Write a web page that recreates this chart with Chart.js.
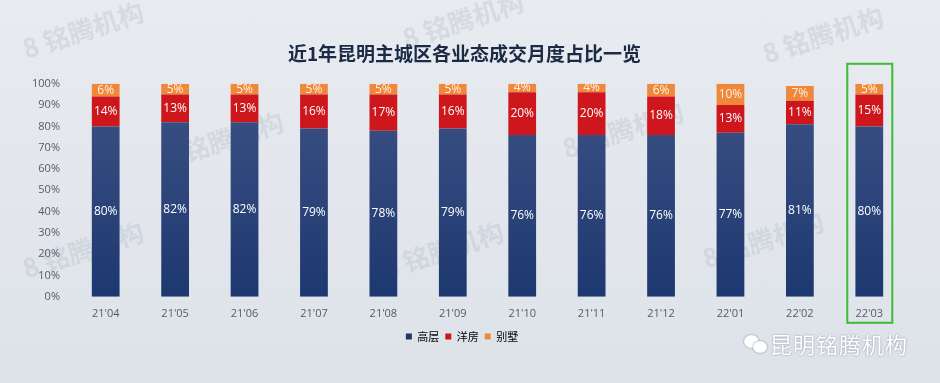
<!DOCTYPE html>
<html>
<head>
<meta charset="utf-8">
<script src="https://cdn.jsdelivr.net/npm/chart.js@4"></script>
<style>
  html, body { margin: 0; padding: 0; }
  body {
    width: 940px; height: 383px; overflow: hidden; position: relative;
    background: linear-gradient(180deg, #e8ebf0 0%, #e2e6ec 60%, #dde2e9 100%);
    font-family: "Noto Sans CJK SC", "Noto Sans", sans-serif;
  }
  #wrap { position: absolute; left: 0; top: 0; width: 940px; height: 383px; }
  .wm {
    position: absolute; color: rgba(140, 150, 165, 0.2); font-size: 26px; font-weight: bold;
    transform: rotate(-18deg); white-space: nowrap; pointer-events: none;
  }
  #brand {
    position: absolute; left: 770px; top: 327px; color: #fff; font-size: 22px;
    text-shadow: 0 0 2px rgba(90, 100, 115, 0.7); letter-spacing: 1px;
  }
  #icon { position: absolute; left: 744px; top: 333px; width: 24px; height: 22px; }
  #icon span {
    position: absolute; background: #fff; border-radius: 50%;
    box-shadow: 0 0 2px rgba(90, 100, 115, 0.8);
  }
</style>
</head>
<body>
<div class="wm" style="left:20px;top:10px">8 铭腾机构</div>
<div class="wm" style="left:400px;top:0px">8 铭腾机构</div>
<div class="wm" style="left:760px;top:15px">8 铭腾机构</div>
<div class="wm" style="left:160px;top:120px">8 铭腾机构</div>
<div class="wm" style="left:560px;top:110px">8 铭腾机构</div>
<div class="wm" style="left:20px;top:230px">8 铭腾机构</div>
<div class="wm" style="left:380px;top:230px">8 铭腾机构</div>
<div class="wm" style="left:700px;top:220px">8 铭腾机构</div>
<div id="wrap"><canvas id="chart" width="940" height="383"></canvas></div>
<div id="icon"><span style="left:0;top:2px;width:15px;height:13px"></span><span style="left:9px;top:8px;width:14px;height:12px"></span></div>
<div id="brand">昆明铭腾机构</div>
<script>
  // 数据
  const meses = ["21'04", "21'05", "21'06", "21'07", "21'08", "21'09", "21'10", "21'11", "21'12", "22'01", "22'02", "22'03"];
  const gaoceng = [80, 82, 82, 79, 78, 79, 76, 76, 76, 77, 81, 80];
  const yangfang = [14, 13, 13, 16, 17, 16, 20, 20, 18, 13, 11, 15];
  const bieshu = [6, 5, 5, 5, 5, 5, 4, 4, 6, 10, 7, 5];
  const destacado = 11; // 22'03

  const fuente = '"Open Sans", "Noto Sans CJK SC", sans-serif';

  function degradado(ctx, area, abajo, arriba) {
    const g = ctx.createLinearGradient(0, area.bottom, 0, area.top);
    g.addColorStop(0, abajo);
    g.addColorStop(1, arriba);
    return g;
  }

  // Etiquetas dentro de cada segmento
  const etiquetas = {
    id: "etiquetas",
    afterDatasetsDraw(chart) {
      const ctx = chart.ctx;
      ctx.save();
      ctx.font = "12px " + fuente;
      ctx.textAlign = "center";
      ctx.textBaseline = "middle";
      chart.data.datasets.forEach((ds, i) => {
        ctx.fillStyle = i === 2 ? "#fff1e2" : "#ffffff";
        chart.getDatasetMeta(i).data.forEach((bar, j) => {
          const mid = (bar.y + bar.base) / 2;
          ctx.fillText(ds.data[j] + "%", bar.x, mid);
        });
      });
      ctx.restore();
    }
  };

  // Marco verde sobre el último mes
  const marco = {
    id: "marco",
    afterDraw(chart) {
      const x = chart.scales.x.getPixelForValue(destacado);
      const y = chart.scales.y;
      const ctx = chart.ctx;
      ctx.save();
      ctx.strokeStyle = "#3dbb35";
      ctx.lineWidth = 2;
      ctx.strokeRect(x - 22, y.getPixelForValue(100) - 20, 45, y.getPixelForValue(0) - y.getPixelForValue(100) + 46);
      ctx.restore();
    }
  };

  new Chart(document.getElementById("chart"), {
    type: "bar",
    data: {
      labels: meses,
      datasets: [
        {
          label: "高层", data: gaoceng,
          backgroundColor: c => c.chart.chartArea ? degradado(c.chart.ctx, c.chart.chartArea, "#1d3870", "#3d5284") : "#2a4277"
        },
        {
          label: "洋房", data: yangfang,
          backgroundColor: "#cd171c"
        },
        {
          label: "别墅", data: bieshu,
          backgroundColor: "#ef883a"
        }
      ]
    },
    options: {
      responsive: false,
      animation: false,
      layout: { padding: { left: 25, right: 36, top: 0, bottom: 31 } },
      datasets: { bar: { barPercentage: 0.8, categoryPercentage: 0.5, borderWidth: 0 } },
      scales: {
        x: {
          stacked: true,
          grid: { display: false, drawTicks: false },
          border: { display: false },
          ticks: { color: "#555b66", font: { size: 11, family: fuente }, padding: 10 }
        },
        y: {
          stacked: true, min: 0, max: 100,
          grid: { display: false, drawTicks: false },
          border: { display: false },
          afterFit: s => { s.width = 46; },
          ticks: { stepSize: 10, color: "#555b66", font: { size: 11, family: fuente }, padding: 11, callback: v => v + "%" }
        }
      },
      plugins: {
        tooltip: { enabled: false },
        title: {
          display: true,
          text: "近1年昆明主城区各业态成交月度占比一览",
          color: "#1b2a45",
          font: { size: 19, weight: "bold", family: '"Noto Sans CJK SC", sans-serif' },
          padding: { top: 42, bottom: 19 }
        },
        legend: {
          position: "bottom",
          labels: {
            boxWidth: 6, boxHeight: 6, padding: 1,
            color: "#444",
            font: { size: 11, family: '"Noto Sans CJK SC", sans-serif' },
            generateLabels: chart => chart.data.datasets.map((ds, i) => ({
              text: ds.label + "  ",
              fillStyle: ["#1f3668", "#cc151b", "#ef8a3c"][i],
              strokeStyle: "transparent", lineWidth: 0, datasetIndex: i
            }))
          }
        }
      }
    },
    plugins: [etiquetas, marco]
  });
</script>
</body>
</html>
